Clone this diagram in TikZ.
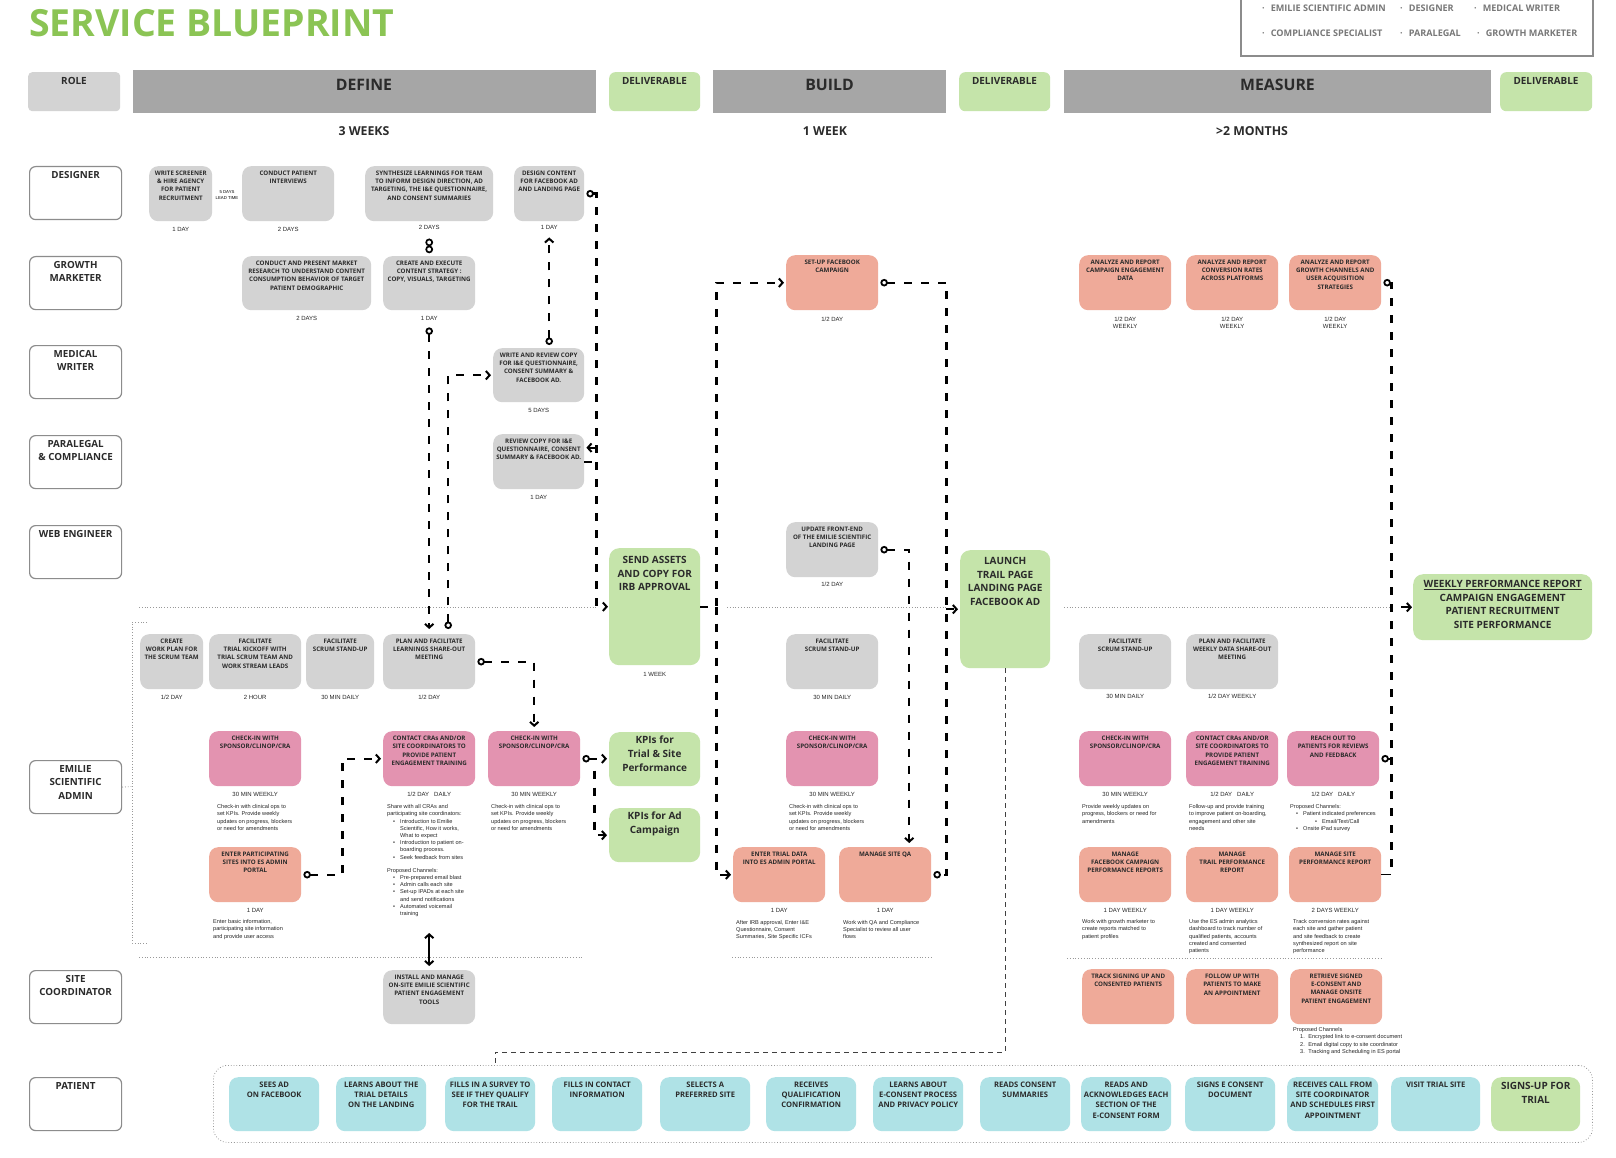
\documentclass[tikz,border=0pt]{standalone}
\usepackage{fontspec}
\setmainfont{Open Sans}
\newfontfamily\arialf{Liberation Sans}
\usetikzlibrary{arrows.meta,calc}
\definecolor{boxgray}{RGB}{211,211,211}
\definecolor{salmon}{RGB}{239,170,153}
\definecolor{pinkc}{RGB}{227,147,176}
\definecolor{tealc}{RGB}{175,226,230}
\definecolor{greenc}{RGB}{197,228,170}
\definecolor{hdrgray}{RGB}{166,166,166}
\definecolor{titlegreen}{RGB}{139,196,84}
\definecolor{txt}{RGB}{43,43,43}
\definecolor{rolegray}{RGB}{140,140,140}
\definecolor{leggray}{RGB}{120,120,120}
\newcommand{\bx}[8][4.5]{%
  \node[#6, minimum width=#4, minimum height=#5, anchor=north west] (#2) at (#3) {};
  \node[#7, anchor=north] (#2-t) at ($(#2.north)+(0,#1)$) {#8};}
\newcommand{\du}[3][8]{\node[dur] (#2-d) at ($(#2.south)+(0,#1)$) {#3};}
\newcommand{\rolebx}[3]{%
  \node[rolebox, anchor=north west] (#1) at (#2) {};
  \node[roletext, anchor=north] (#1-t) at ($(#1.north)+(0,5)$) {#3};}
\newcommand{\dbul}{\hspace*{6pt}\makebox[7pt][l]{\textbullet}}
\newcommand{\dcont}{\hspace*{13pt}}
\begin{document}
\begin{tikzpicture}[x=1pt,y=-1pt,
  box/.style={rounded corners=9pt, inner sep=0pt, draw=none},
  gb/.style={box, fill=boxgray}, sb/.style={box, fill=salmon},
  pb/.style={box, fill=pinkc}, tb/.style={box, fill=tealc},
  db/.style={box, fill=greenc, rounded corners=10pt},
  bt/.style={font=\bfseries\fontsize{6.2}{8.4}\selectfont, text=txt, align=center, inner sep=0pt},
  patt/.style={font=\bfseries\fontsize{7.6}{10.3}\selectfont, text=txt, align=center, inner sep=0pt},
  dt/.style={font=\bfseries\fontsize{10}{13.7}\selectfont, text=txt, align=center, inner sep=0pt},
  dur/.style={font=\arialf\fontsize{6}{7}\selectfont, text=black!85, inner sep=0pt, align=center},
  desc/.style={font=\arialf\fontsize{5.6}{7.2}\selectfont, text=black!85, inner sep=0pt, align=left, anchor=north west},
  rolebox/.style={draw=rolegray, line width=1.2pt, fill=white, rounded corners=6pt, minimum width=92, minimum height=53, inner sep=0pt},
  roletext/.style={font=\bfseries\fontsize{9.8}{13.4}\selectfont, text=txt, align=center, inner sep=0pt},
  hdr/.style={fill=hdrgray, inner sep=0pt, minimum height=43, anchor=north west},
  hdrtext/.style={font=\bfseries\fontsize{15.8}{17}\selectfont, text=txt, inner sep=0pt},
  delhdr/.style={fill=greenc, rounded corners=6pt, inner sep=0pt, minimum height=39, anchor=north west},
  deltext/.style={font=\bfseries\fontsize{9.9}{11}\selectfont, text=txt, inner sep=0pt},
  weeks/.style={font=\bfseries\fontsize{12.3}{14}\selectfont, text=txt, inner sep=0pt},
  legtext/.style={font=\bfseries\fontsize{9.1}{10}\selectfont, text=leggray, inner sep=0pt, anchor=west},
  sep/.style={draw=gray!80, dotted, line width=0.8pt},
  conn/.style={line width=2.4pt, dash pattern=on 8pt off 9pt, draw=black},
  thinconn/.style={line width=1pt, dash pattern=on 5pt off 4pt, draw=black!75},
  barb/.tip={Straight Barb[length=3.8pt,width=8.5pt,line width=2pt]},
  oc/.tip={Circle[open,length=7.5pt,width=7.5pt,line width=1.8pt]},
  ring/.style={draw, circle, line width=1.7pt, inner sep=0pt, minimum size=6pt}
]
\useasboundingbox (0,0) rectangle (1616,1158);
\fill[white] (0,0) rectangle (1616,1158);

% title and legend
\node[anchor=west, font=\bfseries\fontsize{37.4}{40}\selectfont, text=titlegreen, inner sep=0pt] (title) at (29,23) {SERVICE BLUEPRINT};
\node[draw=rolegray, line width=1.5pt, minimum width=352, minimum height=70, anchor=south west, inner sep=0pt] (legend) at (1240,57) {};
\node[legtext] (lg1) at (1262,8.5) {·\hspace{6pt}EMILIE SCIENTIFIC ADMIN};
\node[legtext] (lg2) at (1400,8.5) {·\hspace{6pt}DESIGNER};
\node[legtext] (lg3) at (1474,8.5) {·\hspace{6pt}MEDICAL WRITER};
\node[legtext] (lg4) at (1262,33) {·\hspace{6pt}COMPLIANCE SPECIALIST};
\node[legtext] (lg5) at (1400,33) {·\hspace{6pt}PARALEGAL};
\node[legtext] (lg6) at (1477,33) {·\hspace{6pt}GROWTH MARKETER};

% headers
\node[fill=boxgray, rounded corners=4pt, minimum width=92, minimum height=39, anchor=north west, inner sep=0pt] (rolehdr) at (28,72) {};
\node[deltext] (rolehdr-t) at (74,80.5) {ROLE};
\node[hdr, minimum width=463] (hdef) at (133,70) {};
\node[hdrtext] (hdef-t) at (364,84.5) {DEFINE};
\node[delhdr, minimum width=91] (del1) at (609,72) {};
\node[deltext] (del1-t) at (654.5,80.5) {DELIVERABLE};
\node[hdr, minimum width=233] (hbuild) at (713,70) {};
\node[hdrtext] (hbuild-t) at (829.5,84.5) {BUILD};
\node[delhdr, minimum width=91] (del2) at (959,72) {};
\node[deltext] (del2-t) at (1004.5,80.5) {DELIVERABLE};
\node[hdr, minimum width=427] (hmeas) at (1064,70) {};
\node[hdrtext] (hmeas-t) at (1277.5,84.5) {MEASURE};
\node[delhdr, minimum width=92] (del3) at (1500,72) {};
\node[deltext] (del3-t) at (1546,80.5) {DELIVERABLE};
\node[weeks] (w1) at (364,131) {3 WEEKS};
\node[weeks] (w2) at (825,131) {1 WEEK};
\node[weeks] (w3) at (1252,131) {>2 MONTHS};

% roles
\rolebx{rdes}{29,166}{DESIGNER}
\rolebx{rgro}{29,256}{GROWTH\\MARKETER}
\rolebx{rmed}{29,345}{MEDICAL\\WRITER}
\rolebx{rpar}{29,435}{PARALEGAL\\\& COMPLIANCE}
\rolebx{rweb}{29,525}{WEB ENGINEER}
\rolebx{radm}{29,760}{EMILIE\\SCIENTIFIC\\ADMIN}
\rolebx{rsite}{29,970}{SITE\\COORDINATOR}
\rolebx{rpat}{29,1077}{PATIENT}

% separators
\draw[sep] (139,607) -- (596,607);
\draw[sep] (727,607) -- (946,607);
\draw[sep] (1064,607) -- (1391,607);
\draw[sep] (139,957) -- (582,957);
\draw[sep] (732,957) -- (933,957);
\draw[sep] (1067,958) -- (1381,958);
\draw[sep] (147,622) -- (132,622) -- (132,943) -- (147,943);
\draw[sep] (radm.east) -- (132,786.5);

% designer row
\bx{ws}{149,166}{63}{55}{gb}{bt}{WRITE SCREENER\\\& HIRE AGENCY\\FOR PATIENT\\RECRUITMENT}
\du{ws}{1 DAY}
\node[font=\arialf\fontsize{4.3}{5.2}\selectfont, align=center, inner sep=0pt] (lead) at (227,195) {5 DAYS\\LEAD TIME};
\bx{cpi}{242,166}{92}{55}{gb}{bt}{CONDUCT PATIENT\\INTERVIEWS}
\du{cpi}{2 DAYS}
\bx{syn}{365,166}{128}{55}{gb}{bt}{SYNTHESIZE LEARNINGS FOR TEAM\\TO INFORM DESIGN DIRECTION, AD\\TARGETING, THE I\&E QUESTIONNAIRE,\\AND CONSENT SUMMARIES}
\du[6]{syn}{2 DAYS}
\bx{dc}{514,166}{70}{55}{gb}{bt}{DESIGN CONTENT\\FOR FACEBOOK AD\\AND LANDING PAGE}
\du[6]{dc}{1 DAY}

% growth marketer row
\bx{cmr}{242,256}{129}{54}{gb}{bt}{CONDUCT AND PRESENT MARKET\\RESEARCH TO UNDERSTAND CONTENT\\CONSUMPTION BEHAVIOR OF TARGET\\PATIENT DEMOGRAPHIC}
\du{cmr}{2 DAYS}
\bx{cae}{383,256}{92}{54}{gb}{bt}{CREATE AND EXECUTE\\CONTENT STRATEGY :\\COPY, VISUALS, TARGETING}
\du{cae}{1 DAY}
\bx{sfb}{786,255}{92}{55}{sb}{bt}{SET-UP FACEBOOK\\CAMPAIGN}
\du[9]{sfb}{1/2 DAY}
\bx{ag1}{1079,255}{92}{55}{sb}{bt}{ANALYZE AND REPORT\\CAMPAIGN ENGAGEMENT\\DATA}
\du[12]{ag1}{1/2 DAY\\WEEKLY}
\bx{ag2}{1186,255}{92}{55}{sb}{bt}{ANALYZE AND REPORT\\CONVERSION RATES\\ACROSS PLATFORMS}
\du[12]{ag2}{1/2 DAY\\WEEKLY}
\bx{ag3}{1289,255}{92}{55}{sb}{bt}{ANALYZE AND REPORT\\GROWTH CHANNELS AND\\USER ACQUISITION\\STRATEGIES}
\du[12]{ag3}{1/2 DAY\\WEEKLY}

% medical writer, paralegal, web engineer
\bx{wr}{493,348}{91}{54}{gb}{bt}{WRITE AND REVIEW COPY\\FOR I\&E QUESTIONNAIRE,\\CONSENT SUMMARY \&\\FACEBOOK AD.}
\du{wr}{5 DAYS}
\bx{rc}{493,434}{91}{55}{gb}{bt}{REVIEW COPY FOR I\&E\\QUESTIONNAIRE, CONSENT\\SUMMARY \& FACEBOOK AD.}
\du{rc}{1 DAY}
\bx{ufe}{786,522}{92}{55}{gb}{bt}{UPDATE FRONT-END\\OF THE EMILIE SCIENTIFIC\\LANDING PAGE}
\du[7]{ufe}{1/2 DAY}

% admin row 1
\bx{cwp}{140,634}{63}{55}{gb}{bt}{CREATE\\WORK PLAN FOR\\THE SCRUM TEAM}
\du{cwp}{1/2 DAY}
\bx{ftk}{209,634}{92}{55}{gb}{bt}{FACILITATE\\TRIAL KICKOFF WITH\\TRIAL SCRUM TEAM AND\\WORK STREAM LEADS}
\du{ftk}{2 HOUR}
\bx{fss1}{306,634}{68}{55}{gb}{bt}{FACILITATE\\SCRUM STAND-UP}
\du{fss1}{30 MIN DAILY}
\bx{paf}{383,634}{92}{55}{gb}{bt}{PLAN AND FACILITATE\\LEARNINGS SHARE-OUT\\MEETING}
\du{paf}{1/2 DAY}
\bx{fss2}{786,634}{92}{55}{gb}{bt}{FACILITATE\\SCRUM STAND-UP}
\du{fss2}{30 MIN DAILY}
\bx{fss3}{1079,634}{92}{55}{gb}{bt}{FACILITATE\\SCRUM STAND-UP}
\du[7]{fss3}{30 MIN DAILY}
\bx{pwd}{1186,634}{92}{55}{gb}{bt}{PLAN AND FACILITATE\\WEEKLY DATA SHARE-OUT\\MEETING}
\du[7]{pwd}{1/2 DAY WEEKLY}

% admin row 2
\bx{ci1}{209,731}{92}{55}{pb}{bt}{CHECK-IN WITH\\SPONSOR/CLINOP/CRA}
\du{ci1}{30 MIN WEEKLY}
\node[desc] (ci1-x) at (217,804.5) {Check-in with clinical ops to\\set KPIs. Provide weekly\\updates on progress, blockers\\or need for amendments};
\bx{cc1}{383,731}{92}{55}{pb}{bt}{CONTACT CRAs AND/OR\\SITE COORDINATORS TO\\PROVIDE PATIENT\\ENGAGEMENT TRAINING}
\du{cc1}{1/2 DAY\hspace{5pt}DAILY}
\node[desc] (cc1-x) at (387,804.5) {Share with all CRAs and\\participating site coordinators:\\
\dbul Introduction to Emilie\\ \dcont Scientific, How it works,\\ \dcont What to expect\\
\dbul Introduction to patient on-\\ \dcont boarding process.\\
\dbul Seek feedback from sites\\[6pt]
Proposed Channels:\\
\dbul Pre-prepared email blast\\
\dbul Admin calls each site\\
\dbul Set-up IPADs at each site\\ \dcont and send notifications\\
\dbul Automated voicemail\\ \dcont training};
\bx{ci2}{488,731}{92}{55}{pb}{bt}{CHECK-IN WITH\\SPONSOR/CLINOP/CRA}
\du{ci2}{30 MIN WEEKLY}
\node[desc] (ci2-x) at (491,804.5) {Check-in with clinical ops to\\set KPIs. Provide weekly\\updates on progress, blockers\\or need for amendments};
\bx{ci3}{786,731}{92}{55}{pb}{bt}{CHECK-IN WITH\\SPONSOR/CLINOP/CRA}
\du{ci3}{30 MIN WEEKLY}
\node[desc] (ci3-x) at (789,804.5) {Check-in with clinical ops to\\set KPIs. Provide weekly\\updates on progress, blockers\\or need for amendments};
\bx{ci4}{1079,731}{92}{55}{pb}{bt}{CHECK-IN WITH\\SPONSOR/CLINOP/CRA}
\du{ci4}{30 MIN WEEKLY}
\node[desc] (ci4-x) at (1082,804.5) {Provide weekly updates on\\progress, blockers or need for\\amendments};
\bx{cc2}{1186,731}{92}{55}{pb}{bt}{CONTACT CRAs AND/OR\\SITE COORDINATORS TO\\PROVIDE PATIENT\\ENGAGEMENT TRAINING}
\du{cc2}{1/2 DAY\hspace{5pt}DAILY}
\node[desc] (cc2-x) at (1189,804.5) {Follow-up and provide training\\to improve patient on-boarding,\\engagement and other site\\needs};
\bx{ro}{1287,731}{92}{55}{pb}{bt}{REACH OUT TO\\PATIENTS FOR REVIEWS\\AND FEEDBACK}
\du{ro}{1/2 DAY\hspace{5pt}DAILY}
\node[desc] (ro-x) at (1290,804.5) {Proposed Channels:\\
\dbul Patient indicated preferences\\
\hspace*{25pt}\makebox[7pt][l]{\textbullet}Email/Text/Call\\
\dbul Onsite iPad survey};

% admin row 3
\bx{eps}{209,847}{92}{55}{sb}{bt}{ENTER PARTICIPATING\\SITES INTO ES ADMIN\\PORTAL}
\du{eps}{1 DAY}
\node[desc] (eps-x) at (213,919.5) {Enter basic information,\\participating site information\\and provide user access};
\bx{etd}{733,847}{92}{55}{sb}{bt}{ENTER TRIAL DATA\\INTO ES ADMIN PORTAL}
\du{etd}{1 DAY}
\node[desc] (etd-x) at (736,920) {After IRB approval, Enter I\&E\\Questionnaire, Consent\\Summaries, Site Specific ICFs};
\bx{msq}{839,847}{92}{55}{sb}{bt}{MANAGE SITE QA}
\du{msq}{1 DAY}
\node[desc] (msq-x) at (843,920) {Work with QA and Compliance\\Specialist to review all user\\flows};
\bx{mfb}{1079,847}{92}{55}{sb}{bt}{MANAGE\\FACEBOOK CAMPAIGN\\PERFORMANCE REPORTS}
\du{mfb}{1 DAY WEEKLY}
\node[desc] (mfb-x) at (1082,919.5) {Work with growth marketer to\\create reports matched to\\patient profiles};
\bx{mtp}{1186,847}{92}{55}{sb}{bt}{MANAGE\\TRAIL PERFORMANCE\\REPORT}
\du{mtp}{1 DAY WEEKLY}
\node[desc] (mtp-x) at (1189,919.5) {Use the ES admin analytics\\dashboard to track number of\\qualified patients, accounts\\created and consented\\patients};
\bx{msp}{1289,847}{92}{55}{sb}{bt}{MANAGE SITE\\PERFORMANCE REPORT}
\du{msp}{2 DAYS WEEKLY}
\node[desc] (msp-x) at (1293,919.5) {Track conversion rates against\\each site and gather patient\\and site feedback to create\\synthesized report on site\\performance};

% site coordinator row
\bx{ins}{383,970}{92}{54}{gb}{bt}{INSTALL AND MANAGE\\ON-SITE EMILIE SCIENTIFIC\\PATIENT ENGAGEMENT\\TOOLS}
\bx{tsu}{1082,969}{92}{55}{sb}{bt}{TRACK SIGNING UP AND\\CONSENTED PATIENTS}
\bx{fu}{1186,969}{92}{55}{sb}{bt}{FOLLOW UP WITH\\PATIENTS TO MAKE\\AN APPOINTMENT}
\bx{rs}{1290,969}{92}{55}{sb}{bt}{RETRIEVE SIGNED\\E-CONSENT AND\\MANAGE ONSITE\\PATIENT ENGAGEMENT}
\node[desc] (rs-x) at (1293,1027.5) {Proposed Channels\\
\hspace*{7pt}1.\hspace{3.5pt}Encrypted link to e-consent document\\
\hspace*{7pt}2.\hspace{3.5pt}Email digital copy to site coordinator\\
\hspace*{7pt}3.\hspace{3.5pt}Tracking and Scheduling in ES portal};

% deliverables
\bx[8]{sa}{609,548}{91}{117}{db}{dt}{SEND ASSETS\\AND COPY FOR\\IRB APPROVAL}
\du[9]{sa}{1 WEEK}
\bx[4]{kt}{609,732}{91}{54}{db}{dt}{KPIs for\\Trial \& Site\\Performance}
\bx[4]{ka}{609,808}{91}{54}{db}{dt}{KPIs for Ad\\Campaign}
\bx[7]{lt}{960,550}{90}{118}{db}{dt}{LAUNCH\\TRAIL PAGE\\LANDING PAGE\\FACEBOOK AD}
\bx[6]{wp}{1413,574}{179}{66}{db}{font=\bfseries\fontsize{10}{13.6}\selectfont, text=txt, align=center, inner sep=0pt}{\underline{WEEKLY PERFORMANCE REPORT}\\CAMPAIGN ENGAGEMENT\\PATIENT RECRUITMENT\\SITE PERFORMANCE}

% patient row
\node[draw=gray!80, dotted, line width=0.8pt, rounded corners=14pt, minimum width=1379, minimum height=77, anchor=north west, inner sep=0pt] (preg) at (213,1065) {};
\bx{p1}{229,1077}{90}{54}{tb}{patt}{SEES AD\\ON FACEBOOK}
\bx{p2}{336,1077}{90}{54}{tb}{patt}{LEARNS ABOUT THE\\TRIAL DETAILS\\ON THE LANDING}
\bx{p3}{445,1077}{90}{54}{tb}{patt}{FILLS IN A SURVEY TO\\SEE IF THEY QUALIFY\\FOR THE TRAIL}
\bx{p4}{552,1077}{90}{54}{tb}{patt}{FILLS IN CONTACT\\INFORMATION}
\bx{p5}{660,1077}{90}{54}{tb}{patt}{SELECTS A\\PREFERRED SITE}
\bx{p6}{766,1077}{90}{54}{tb}{patt}{RECEIVES\\QUALIFICATION\\CONFIRMATION}
\bx{p7}{873,1077}{90}{54}{tb}{patt}{LEARNS ABOUT\\E-CONSENT PROCESS\\AND PRIVACY POLICY}
\bx{p8}{980,1077}{90}{54}{tb}{patt}{READS CONSENT\\SUMMARIES}
\bx{p9}{1081,1077}{90}{54}{tb}{patt}{READS AND\\ACKNOWLEDGES EACH\\SECTION OF THE\\E-CONSENT FORM}
\bx{p10}{1185,1077}{90}{54}{tb}{patt}{SIGNS E CONSENT\\DOCUMENT}
\bx{p11}{1287,1077}{91}{54}{tb}{patt}{RECEIVES CALL FROM\\SITE COORDINATOR\\AND SCHEDULES FIRST\\APPOINTMENT}
\bx{p12}{1391,1077}{89}{54}{tb}{patt}{VISIT TRIAL SITE}
\bx[5]{p13}{1491,1077}{89}{54}{db}{dt}{SIGNS-UP FOR\\TRIAL}

% connectors
\draw[conn, oc-barb] ($(dc.east)+(2,0)$) -- ++(10,0) |- ($(sa.west)+(-1,0)$);
\coordinate (j1) at ($(rc.east)+(12,-14)$);
\draw[conn, -barb] (j1) -- ($(rc.east |- j1)+(2,0)$);
\draw[conn] (rc.east) -- ++(12,0);
\node[ring] (k1) at ($(syn.south)+(0,21)$) {};
\node[ring] (k2) at ($(syn.south)+(0,28)$) {};
\draw[conn, oc-barb] ($(cae.south)+(0,17)$) -- ($(paf.north)+(0,-5)$);
\draw[conn, oc-barb] ($(paf.north)+(19,-5)$) |- ($(wr.west)+(-2,0)$);
\draw[conn, oc-barb] ($(wr.north -| dc.south)+(0,-3)$) -- ($(dc.south)+(0,16)$);
\draw[conn, oc-barb] ($(paf.east)+(2,0)$) -| ($(ci2.north)+(0,-4)$);
\draw[conn, oc-barb] ($(eps.east)+(2,0)$) -- ++(39,0) |- ($(cc1.west)+(-2,0)$);
\draw[conn, oc-barb] ($(ci2.east)+(2,0)$) -- ($(ci2.east -| kt.west)+(-2,0)$);
\draw[conn, -barb] ($(ci2.east)+(14,12)$) |- ($(ka.west)+(-2,0)$);
\draw[line width=2.4pt, barb-barb] ($(ins.north)+(0,-4)$) -- ($(ins.north)+(0,-37)$);
\draw[conn, -barb] (sa.east) -- ++(16,0) |- ($(sfb.west)+(-2,0)$);
\draw[conn, -barb] ($(sa.east)+(16,0)$) |- ($(etd.west)+(-2,0)$);
\draw[conn, oc-oc] ($(sfb.east)+(2,0)$) -- ++(66,0) |- ($(msq.east)+(2,0)$);
\draw[conn, -barb] ($(lt.west)+(-14,0)$) -- ($(lt.west)+(-2,0)$);
\draw[conn, oc-barb] ($(ufe.east)+(2,0)$) -| ($(msq.north)+(24,-4)$);
\coordinate (pj) at (495,1052);
\draw[thinconn] (lt.south) |- (pj) -- (pj |- preg.north);
\draw[conn, oc-] ($(ag3.east)+(2,0)$) -- ++(8,0) -- ($(msp.east)+(10,0)$);
\draw[line width=1pt] (msp.east) -- ++(10,0);
\draw[conn, -barb] ($(wp.west)+(-12,0)$) -- ($(wp.west)+(-1,0)$);
\draw[conn, oc-] ($(ro.east)+(2,0)$) -- ++(10,0);
\end{tikzpicture}
\end{document}
